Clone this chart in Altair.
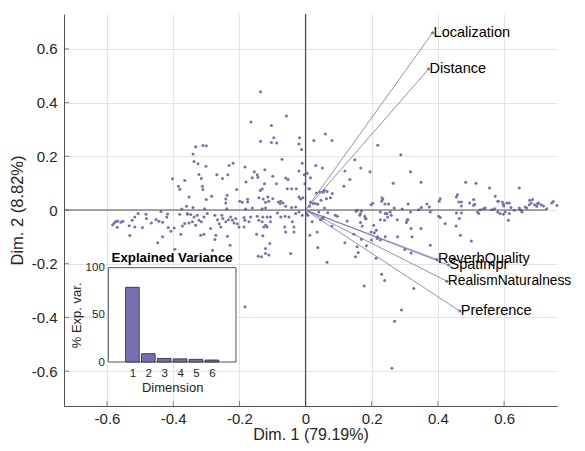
import altair as alt
import pandas as pd

FONT = "Liberation Sans"
PURPLE = "#7570b3"
AXC = "#262626"

# ---------------- data ----------------
# observation scores (Dim. 1, Dim. 2)
scores_left = [
    (-0.583, -0.055), (-0.578, -0.048), (-0.573, -0.043), (-0.568, -0.041), (-0.569, -0.064),
    (-0.558, -0.046), (-0.552, -0.042), (-0.533, -0.059), (-0.531, -0.095), (-0.524, -0.038),
    (-0.516, -0.026), (-0.516, -0.063), (-0.506, -0.013), (-0.493, -0.065), (-0.482, -0.016),
    (-0.481, -0.032), (-0.466, -0.048), (-0.452, -0.035), (-0.447, -0.122), (-0.443, -0.042),
    (-0.437, -0.006), (-0.432, -0.046), (-0.432, -0.100), (-0.419, -0.026), (-0.417, -0.015),
    (-0.415, -0.065), (-0.407, -0.079), (-0.402, 0.116), (-0.397, -0.067), (-0.395, -0.146),
    (-0.384, 0.088), (-0.380, 0.077), (-0.380, -0.016), (-0.377, -0.090), (-0.374, 0.004),
    (-0.372, -0.060), (-0.365, 0.110), (-0.365, -0.050), (-0.360, 0.014), (-0.357, -0.016),
    (-0.352, 0.048), (-0.352, -0.048), (-0.357, -0.013),
]
scores_center = [
    (-0.136, 0.440), (-0.058, 0.350), (-0.165, 0.328), (-0.103, 0.315), (-0.136, 0.256),
    (-0.096, 0.269), (-0.103, 0.251), (-0.087, 0.250), (-0.018, 0.269), (-0.020, 0.246),
    (-0.012, 0.225), (-0.332, 0.236), (-0.310, 0.240), (-0.300, 0.239), (-0.340, 0.209),
    (-0.071, 0.189), (-0.337, 0.181), (-0.325, 0.172), (-0.301, 0.163), (-0.231, 0.166),
    (-0.219, 0.174), (-0.183, 0.160), (-0.010, 0.174), (-0.123, 0.150), (-0.155, 0.142),
    (-0.146, 0.131), (-0.144, 0.122), (-0.161, 0.120), (-0.020, 0.145), (-0.004, 0.131),
    (-0.322, 0.132), (-0.315, 0.117), (-0.268, 0.131), (-0.251, 0.117), (-0.235, 0.131),
    (-0.099, 0.126), (-0.060, 0.119), (-0.053, 0.114), (-0.002, 0.098), (-0.180, 0.104),
    (-0.124, 0.098), (-0.088, 0.098), (-0.312, 0.088), (-0.310, 0.076), (-0.208, 0.076),
    (-0.131, 0.078), (-0.137, 0.073), (-0.055, 0.079), (-0.042, 0.079), (-0.028, 0.079),
    (0.012, 0.079), (-0.237, 0.055), (-0.284, 0.051), (-0.300, 0.039), (-0.241, 0.041),
    (-0.241, 0.026), (-0.199, 0.033), (-0.191, 0.029), (-0.175, 0.040), (-0.175, 0.030),
    (-0.141, 0.046), (-0.128, 0.041), (-0.114, 0.048), (-0.121, 0.029), (-0.111, 0.033),
    (-0.099, 0.042), (-0.082, 0.030), (-0.075, 0.033), (-0.077, 0.024), (-0.068, 0.026),
    (-0.060, 0.014), (-0.020, 0.048), (-0.015, 0.041), (-0.008, 0.046), (-0.030, 0.011),
    (-0.042, 0.009), (0.012, 0.014), (-0.340, 0.009), (-0.305, 0.005), (-0.238, 0.005),
    (-0.181, 0.004), (-0.161, 0.007), (-0.131, 0.005), (-0.121, 0.007),
    (-0.347, -0.017), (-0.337, -0.026), (-0.327, -0.020), (-0.322, -0.038), (-0.315, -0.044),
    (-0.342, -0.044), (-0.332, -0.057), (-0.307, -0.026), (-0.297, -0.013), (-0.287, -0.069),
    (-0.317, -0.094), (-0.307, -0.090), (-0.274, -0.020), (-0.266, -0.036), (-0.261, -0.051),
    (-0.253, -0.020), (-0.250, -0.032), (-0.241, -0.044), (-0.233, -0.036), (-0.226, -0.026),
    (-0.221, -0.038), (-0.216, -0.048), (-0.211, -0.032), (-0.206, -0.051), (-0.201, -0.063),
    (-0.256, -0.063), (-0.271, -0.094), (-0.236, -0.098), (-0.274, -0.110), (-0.228, -0.131),
    (-0.186, -0.028), (-0.183, -0.038), (-0.166, -0.026), (-0.171, -0.044), (-0.186, -0.063),
    (-0.146, -0.023), (-0.141, -0.038), (-0.129, -0.026), (-0.131, -0.044), (-0.121, -0.057),
    (-0.116, -0.026), (-0.106, -0.026), (-0.106, -0.044), (-0.126, -0.063), (-0.148, -0.090),
    (-0.129, -0.096), (-0.116, -0.063), (-0.108, -0.125), (-0.121, -0.143), (-0.111, -0.168),
    (-0.121, -0.162), (-0.143, -0.172), (-0.133, -0.174), (-0.085, -0.011), (-0.075, -0.026),
    (-0.062, -0.023), (-0.050, -0.026), (-0.063, -0.063), (-0.040, -0.044), (-0.035, -0.063),
    (-0.060, -0.082), (-0.035, -0.082), (-0.030, -0.013), (-0.020, -0.007), (-0.010, -0.020),
    (-0.045, -0.162), (-0.281, -0.150), (-0.183, -0.360),
]
scores_right = [
    (0.060, 0.283), (0.025, 0.259), (0.080, 0.259), (0.218, 0.241), (0.288, 0.206),
    (0.149, 0.187), (0.031, 0.166), (0.051, 0.156), (0.167, 0.156), (0.119, 0.145),
    (0.195, 0.142), (0.317, 0.142), (0.134, 0.114), (0.265, 0.100), (0.349, 0.103),
    (0.484, 0.103), (0.515, 0.100), (0.116, 0.088), (0.556, 0.082), (0.646, 0.082),
    (0.573, 0.051), (0.005, 0.137), (0.015, 0.120), (0.010, 0.079), (0.033, 0.063),
    (0.043, 0.067), (0.053, 0.066), (0.057, 0.073), (0.065, 0.069), (0.075, 0.046),
    (0.063, 0.042), (0.081, 0.061), (0.047, 0.036), (0.030, 0.024), (0.015, 0.030),
    (0.023, 0.024), (0.037, 0.021), (0.057, 0.007), (0.198, 0.020), (0.203, 0.025),
    (0.231, 0.046), (0.233, 0.040), (0.230, 0.033), (0.240, 0.022), (0.251, 0.022),
    (0.268, 0.007), (0.292, 0.004), (0.310, 0.022), (0.342, 0.001), (0.350, 0.009),
    (0.367, 0.022), (0.374, 0.011), (0.459, 0.057), (0.456, 0.048), (0.407, 0.042),
    (0.404, 0.033), (0.581, 0.033), (0.595, 0.030), (0.598, 0.021), (0.616, 0.026),
    (0.463, 0.030), (0.471, 0.030), (0.496, 0.026), (0.508, 0.018), (0.471, 0.015),
    (0.686, 0.039), (0.682, 0.026), (0.676, 0.020), (0.692, 0.020), (0.704, 0.026),
    (0.712, 0.020), (0.719, 0.015), (0.729, 0.005), (0.744, 0.026), (0.749, 0.032),
    (0.760, 0.017), (0.664, 0.011), (0.654, -0.004), (0.669, 0.007), (0.646, 0.007),
    (0.699, 0.014), (0.528, 0.001), (0.538, 0.005), (0.543, 0.007), (0.563, 0.001),
    (0.581, -0.007), (0.598, -0.016), (0.603, -0.007), (0.616, -0.013), (0.613, -0.038),
    (0.631, -0.001), (0.599, 0.015), (0.520, -0.007), (0.377, -0.007), (0.402, -0.023),
    (0.407, -0.028), (0.422, -0.050), (0.456, -0.011), (0.471, -0.011), (0.455, -0.060),
    (0.468, -0.094), (0.501, -0.115), (0.377, -0.131), (0.508, 0.039), (0.511, 0.021),
    (0.571, 0.005), (0.583, 0.033), (0.608, 0.026), (0.621, 0.009), (0.649, 0.001),
    (0.677, 0.036), (0.701, 0.024), (0.156, -0.001), (0.166, -0.013), (0.181, -0.032),
    (0.226, -0.007), (0.241, -0.013), (0.256, -0.007), (0.277, -0.036), (0.307, -0.038),
    (0.317, -0.007), (0.465, -0.032), (0.523, -0.013), (0.588, -0.013), (0.654, -0.007),
    (0.003, -0.013), (0.007, -0.020), (0.040, -0.007), (0.055, -0.026), (0.067, -0.010),
    (0.020, -0.044), (0.045, -0.036), (0.051, -0.032), (0.035, -0.082), (0.013, -0.094),
    (0.037, -0.140), (0.065, -0.195), (0.080, -0.060), (0.090, -0.020), (0.096, -0.023),
    (0.126, -0.041), (0.119, -0.122), (0.146, -0.090), (0.153, -0.005), (0.169, -0.003),
    (0.164, -0.020), (0.179, -0.023), (0.183, -0.033), (0.166, -0.047), (0.171, -0.060),
    (0.169, -0.109), (0.159, -0.158), (0.151, -0.174), (0.156, -0.137), (0.184, -0.133),
    (0.206, -0.057), (0.208, -0.085), (0.198, -0.082), (0.214, -0.075), (0.199, -0.112),
    (0.216, -0.106), (0.226, -0.112), (0.218, -0.100), (0.213, -0.180), (0.226, -0.036),
    (0.246, -0.013), (0.259, -0.020), (0.248, -0.026), (0.239, -0.038), (0.305, -0.047),
    (0.309, -0.035), (0.319, -0.069), (0.241, -0.100), (0.278, -0.100), (0.322, -0.100),
    (0.300, -0.147), (0.319, -0.160), (0.349, -0.069), (0.230, -0.239), (0.239, -0.263),
    (0.177, -0.283), (0.327, -0.292), (0.290, -0.372), (0.269, -0.414), (0.261, -0.589),
]

# variable loadings
var_names = ["Localization", "Distance", "ReverbQuality", "SpatImpr", "RealismNaturalness", "Preference"]
load_d1 = [0.384, 0.372, 0.397, 0.432, 0.427, 0.466]
load_d2 = [0.660, 0.525, -0.184, -0.205, -0.265, -0.376]

# explained variance (inset)
dims = [1, 2, 3, 4, 5, 6]
exp_var = [79.19, 8.82, 3.76, 3.34, 2.77, 2.12]

xlim = [-0.73, 0.76]
ylim = [-0.73, 0.73]
axis_half = 0.73
main_ticks = [-0.6, -0.4, -0.2, 0, 0.2, 0.4, 0.6]
inset_xlim = [-0.2, 7.2]
inset_ylim = [0, 100]
inset_yticks = [0, 50, 100]

# ---------------- frames ----------------
pts = scores_left + scores_center + scores_right
df_pts = pd.DataFrame(pts, columns=["d1", "d2"])
df_load = pd.DataFrame({"name": var_names, "lx": load_d1, "ly": load_d2, "o": 0.0})
long_name = "RealismNaturalness"
df_zero = pd.DataFrame({"x": [-axis_half, 0.0], "x2": [axis_half, 0.0],
                        "y": [0.0, -axis_half], "y2": [0.0, axis_half]})
df_yt = pd.DataFrame({"v": main_ticks, "edge": xlim[0]})
df_xt = pd.DataFrame({"v": main_ticks, "edge": ylim[0]})
df_var = pd.DataFrame({"dim": dims, "var": exp_var})
df_frame = pd.DataFrame({"x": [inset_xlim[0]], "x2": [inset_xlim[1]],
                         "y": [inset_ylim[0]], "y2": [inset_ylim[1]]})
df_ititle = pd.DataFrame({"x": [(inset_xlim[0] + inset_xlim[1]) / 2], "y": [inset_ylim[1]],
                          "t": ["Explained Variance"]})

W, H = 493, 392


def xs():
    return alt.Scale(domain=xlim, nice=False, zero=False)


def ys():
    return alt.Scale(domain=ylim, nice=False, zero=False)


lab = "replace(datum.label, '\u2212', '-')"
x_axis = alt.Axis(values=main_ticks, format=".1~f", labelExpr=lab, title="Dim. 1 (79.19%)",
                  grid=True, gridColor="#e4e4e4", gridWidth=1, ticks=False, domainColor="#404040",
                  domainWidth=0.9, labelFont=FONT, labelFontSize=15, labelColor=AXC,
                  labelPadding=5, titleFont=FONT, titleFontSize=16, titleFontWeight="normal",
                  titleColor=AXC, titlePadding=0)
y_axis = alt.Axis(values=main_ticks, format=".1~f", labelExpr=lab, title="Dim. 2 (8.82%)",
                  grid=True, gridColor="#e4e4e4", gridWidth=1, ticks=False, domainColor="#404040",
                  domainWidth=0.9, labelFont=FONT, labelFontSize=15, labelColor=AXC,
                  labelPadding=7, titleFont=FONT, titleFontSize=16.5, titleFontWeight="normal",
                  titleColor=AXC, titlePadding=6)

points = alt.Chart(df_pts).mark_circle(size=9, color=PURPLE, opacity=1).encode(
    x=alt.X("d1:Q", scale=xs(), axis=x_axis),
    y=alt.Y("d2:Q", scale=ys(), axis=y_axis),
)
zero_lines = alt.Chart(df_zero).mark_rule(color="#505050", strokeWidth=1.2).encode(
    x=alt.X("x:Q", scale=xs(), axis=None), x2="x2:Q",
    y=alt.Y("y:Q", scale=ys(), axis=None), y2="y2:Q",
)
vectors = alt.Chart(df_load).mark_rule(color=PURPLE, strokeWidth=0.8).encode(
    x=alt.X("o:Q", scale=xs(), axis=None), x2="lx:Q",
    y=alt.Y("o:Q", scale=ys(), axis=None), y2="ly:Q",
)
vec_dots = alt.Chart(df_load).mark_circle(size=9, color=PURPLE, opacity=1).encode(
    x=alt.X("lx:Q", scale=xs(), axis=None), y=alt.Y("ly:Q", scale=ys(), axis=None))
vec_text = alt.Chart(df_load).transform_filter(
    alt.datum.name != long_name
).mark_text(align="left", baseline="middle", dx=1, font=FONT, fontSize=14.5,
            color="black").encode(
    x=alt.X("lx:Q", scale=xs(), axis=None), y=alt.Y("ly:Q", scale=ys(), axis=None),
    text="name:N")
vec_text_long = alt.Chart(df_load).transform_filter(
    alt.datum.name == long_name
).mark_text(align="left", baseline="middle", dx=1, font=FONT, fontSize=13.8,
            color="black").encode(
    x=alt.X("lx:Q", scale=xs(), axis=None), y=alt.Y("ly:Q", scale=ys(), axis=None),
    text="name:N")
ytick = alt.Chart(df_yt).mark_tick(orient="horizontal", size=10, thickness=0.9, color="#404040",
                                   clip=True).encode(
    x=alt.X("edge:Q", scale=xs(), axis=None), y=alt.Y("v:Q", scale=ys(), axis=None))
xtick = alt.Chart(df_xt).mark_tick(orient="vertical", size=10, thickness=0.9, color="#404040",
                                   clip=True).encode(
    x=alt.X("v:Q", scale=xs(), axis=None), y=alt.Y("edge:Q", scale=ys(), axis=None))

# ---------------- inset ----------------
def ixs():
    return alt.Scale(domain=inset_xlim, range=[44.3, 172], nice=False, zero=False)


def iys():
    return alt.Scale(domain=inset_ylim, range=[348, 253.7], nice=False, zero=False)


frame = alt.Chart(df_frame).mark_rect(fill="white", stroke="#404040", strokeWidth=0.9).encode(
    x=alt.X("x:Q", scale=ixs(), axis=None), x2="x2:Q",
    y=alt.Y("y:Q", scale=iys(), axis=None), y2="y2:Q",
)
bars = alt.Chart(df_var).mark_bar(size=13.7, color=PURPLE, stroke="#262626",
                                  strokeWidth=0.8).encode(
    x=alt.X("dim:Q", scale=ixs(), axis=alt.Axis(
        orient="bottom", offset=-(H - 348), values=dims, grid=False, ticks=False, domain=False,
        labelFont=FONT, labelFontSize=11.5, labelColor=AXC, labelPadding=5,
        title="Dimension", titleFont=FONT, titleFontSize=13, titleFontWeight="normal",
        titleColor=AXC, titlePadding=3)),
    y=alt.Y("var:Q", scale=iys(), axis=alt.Axis(
        orient="left", offset=-44.3, values=inset_yticks, grid=False, ticks=False, domain=False,
        labelFont=FONT, labelFontSize=11.5, labelColor=AXC, labelPadding=4,
        title="% Exp. var.", titleFont=FONT, titleFontSize=13, titleFontWeight="normal",
        titleColor=AXC, titlePadding=2)),
)
ititle = alt.Chart(df_ititle).mark_text(baseline="middle", dy=-9.5, font=FONT, fontSize=13.3,
                                        fontWeight="bold", color="black").encode(
    x=alt.X("x:Q", scale=ixs(), axis=None), y=alt.Y("y:Q", scale=iys(), axis=None), text="t:N")

chart = alt.layer(points, zero_lines, vectors, vec_dots, vec_text, vec_text_long, ytick, xtick,
                  frame, bars, ititle).resolve_scale(
    x="independent", y="independent").properties(
    width=W, height=H,
    autosize=alt.AutoSizeParams(type="none"),
    padding={"left": 56, "top": 6, "right": 20, "bottom": 37},
    background="white",
).configure_view(stroke=None)

chart.save("out.html", embed_options={"renderer": "svg", "actions": False})
